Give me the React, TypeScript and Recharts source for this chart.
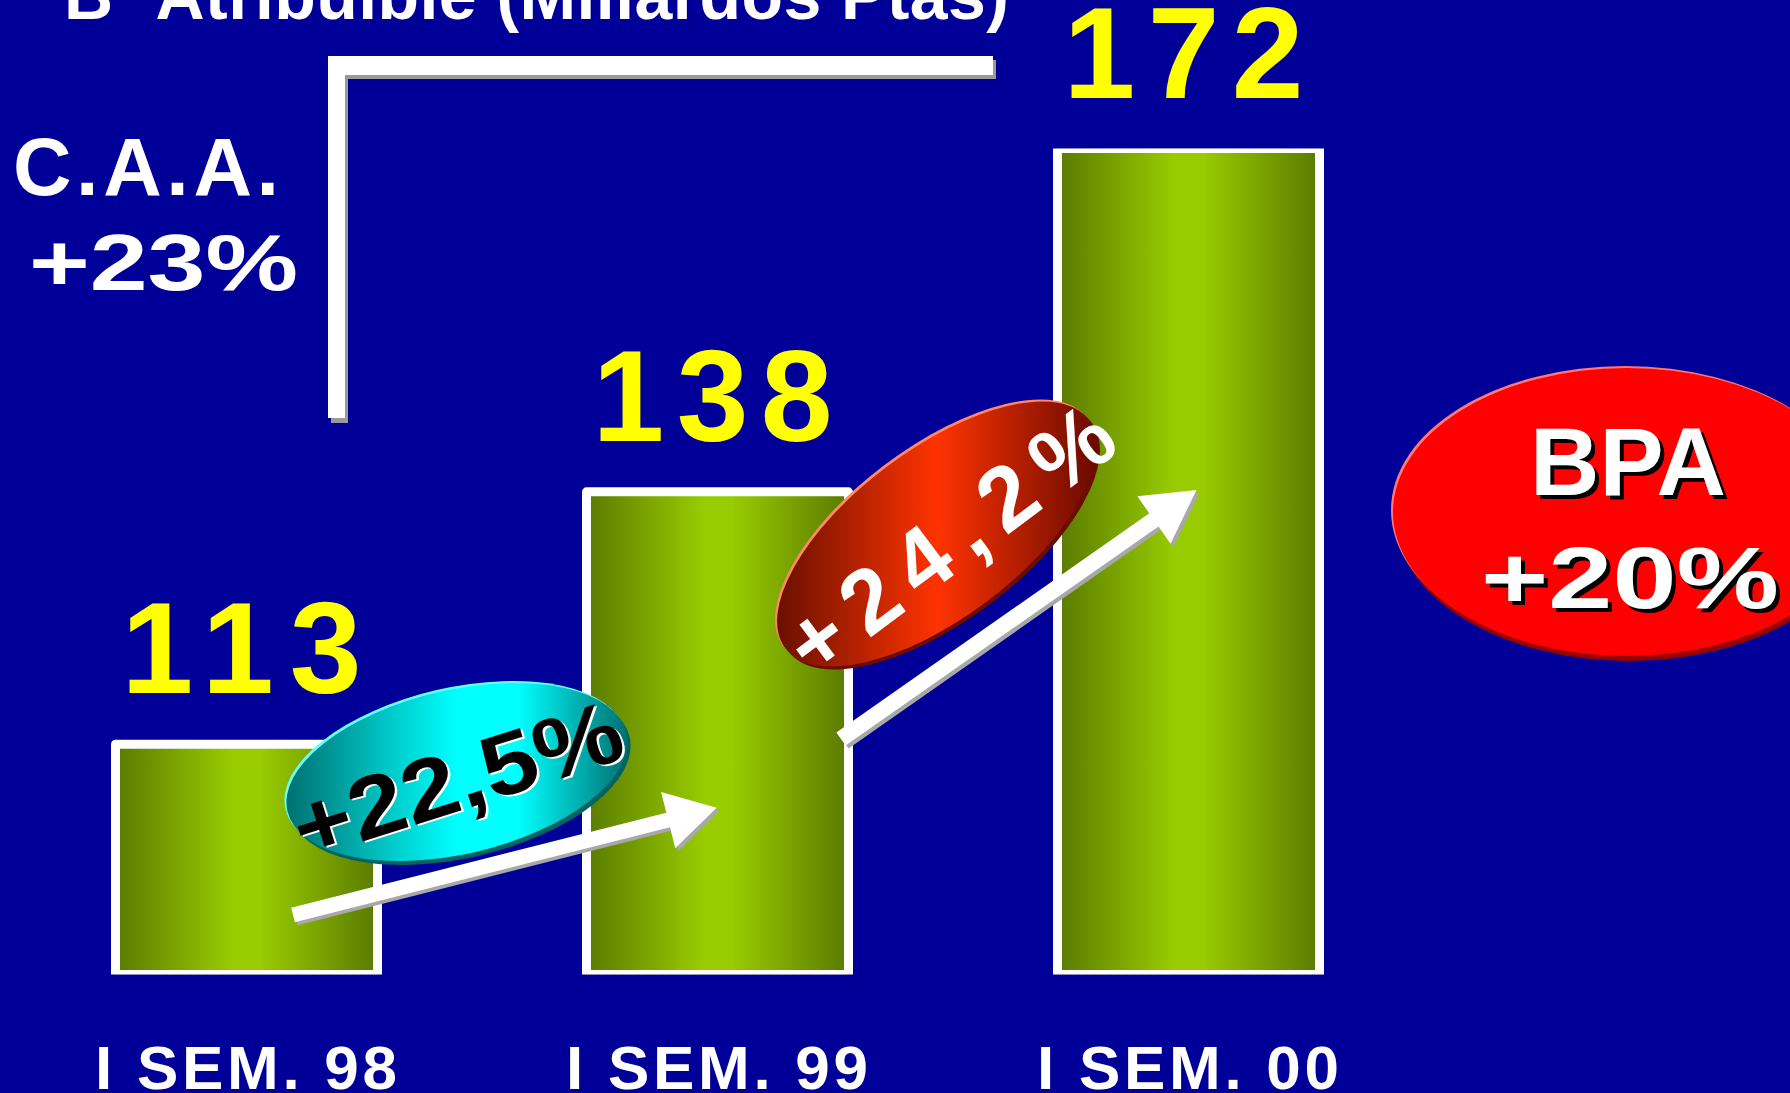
import { BarChart, Bar, XAxis, YAxis, LabelList } from 'recharts';

// Beneficio atribuible por semestre (miles de millones de pesetas)
const periods = ['I SEM. 98', 'I SEM. 99', 'I SEM. 00'];
const profit = [113, 138, 172];
const growthLabels = ['+22,5%', '+24,2%'];
const cagrLabel = ['C.A.A.', '+23%'];
const epsLabel = ['BPA', '+20%'];
const title = 'Bº Atribuible (Millardos Ptas)';

const data = periods.map((period, i) => ({ period, profit: profit[i] }));

const W = 1790;
const H = 1093;
const FONT = "'Liberation Sans', Arial, Helvetica, sans-serif";
const BG = '#000099';

function ValueLabel(props: any) {
  const vb = props.viewBox ?? props;
  const x = (vb.x ?? props.x) as number;
  const y = (vb.y ?? props.y) as number;
  const width = (vb.width ?? props.width) as number;
  return (
    <text
      x={x + width / 2 - 5}
      y={y - 51}
      textAnchor="middle"
      fill="#ffff00"
      fontFamily={FONT}
      fontWeight="bold"
      fontSize={129}
      textLength={240}
      lengthAdjust="spacing"
    >
      {props.value}
    </text>
  );
}

function PeriodTick(props: any) {
  const { x, y, payload } = props;
  return (
    <text
      x={x}
      y={y}
      dy={106}
      textAnchor="middle"
      fill="#ffffff"
      fontFamily={FONT}
      fontWeight="bold"
      fontSize={62}
      textLength={302}
      lengthAdjust="spacing"
    >
      {payload.value}
    </text>
  );
}

function Arrow({ x, y, angle, length, shaft, headLen, headHalf }: any) {
  const base = length - headLen;
  const pts = [
    [0, -shaft], [base, -shaft], [base, -headHalf], [length, 0],
    [base, headHalf], [base, shaft], [0, shaft],
  ].map((p) => p.join(',')).join(' ');
  return (
    <g>
      <polygon points={pts} fill="#a8a8a8" transform={`translate(${x + 3},${y + 3}) rotate(${angle})`} />
      <polygon points={pts} fill="#ffffff" transform={`translate(${x},${y}) rotate(${angle})`} />
    </g>
  );
}

function Overlay() {
  return (
    <svg width={W} height={H} style={{ position: 'absolute', left: 0, top: 0, pointerEvents: 'none' }}>
      {/* título, cortado por arriba */}
      <text x={64} y={19} fill="#ffffff" fontFamily={FONT} fontWeight="bold" fontSize={68} textLength={945} lengthAdjust="spacing">
        {title}
      </text>

      {/* escuadra */}
      <rect x={331} y={60} width={17} height={363} fill="#9a9a9a" />
      <rect x={331} y={60} width={665} height={19} fill="#9a9a9a" />
      <rect x={328} y={56} width={17} height={362} fill="#ffffff" />
      <rect x={328} y={56} width={665} height={19} fill="#ffffff" />

      <text x={13} y={195} fill="#ffffff" fontFamily={FONT} fontWeight="bold" fontSize={81} textLength={266} lengthAdjust="spacing">
        {cagrLabel[0]}
      </text>
      <text x={29} y={290} fill="#ffffff" fontFamily={FONT} fontWeight="bold" fontSize={80} textLength={269} lengthAdjust="spacingAndGlyphs">
        {cagrLabel[1]}
      </text>

      {/* flechas */}
      <Arrow x={293} y={915} angle={-14.2} length={437} shaft={7.5} headLen={50} headHalf={29} />
      <Arrow x={841} y={739} angle={-35} length={434} shaft={8} headLen={52} headHalf={29} />

      {/* elipse cian */}
      <ellipse rx={174} ry={82} fill="#006262" transform="translate(460,776) rotate(-13)" />
      <ellipse rx={174} ry={82} fill="#66ffff" transform="translate(455,770) rotate(-13)" />
      <ellipse rx={174} ry={82} fill="url(#cyanFill)" transform="translate(457,772) rotate(-13)" />
      <g transform="translate(457.5,780) rotate(-17.6)" fontFamily={FONT} fontWeight="bold" fontSize={88}>
        <text x={2} y={32} textAnchor="middle" fill="#ffffff" textLength={341} lengthAdjust="spacingAndGlyphs">{growthLabels[0]}</text>
        <text x={0} y={30} textAnchor="middle" fill="#000000" textLength={341} lengthAdjust="spacingAndGlyphs">{growthLabels[0]}</text>
      </g>

      {/* elipse roja */}
      <ellipse rx={190} ry={84} fill="#6a0c00" transform="translate(940,537) rotate(-37)" />
      <ellipse rx={190} ry={84} fill="#ff8866" transform="translate(935,532) rotate(-37)" />
      <ellipse rx={190} ry={84} fill="url(#redFill)" transform="translate(937,534) rotate(-37)" />
      <g transform="translate(949.5,539.5) rotate(-36.8)" fontFamily={FONT} fontWeight="bold" fontSize={90}>
        <text x={0} y={31} textAnchor="middle" fill="#ffffff" textLength={385} lengthAdjust="spacing">{growthLabels[1]}</text>
      </g>

      {/* BPA */}
      <ellipse cx={1629} cy={517} rx={234} ry={144} fill="#990000" />
      <ellipse cx={1625} cy={510} rx={234} ry={144} fill="#ff7777" />
      <ellipse cx={1627} cy={512} rx={234} ry={144} fill="#ff0000" />
      <g fontFamily={FONT} fontWeight="bold" textAnchor="middle">
        <text x={1632} y={499} fontSize={96} fill="#000000" textLength={196} lengthAdjust="spacingAndGlyphs">{epsLabel[0]}</text>
        <text x={1628} y={495} fontSize={96} fill="#ffffff" textLength={196} lengthAdjust="spacingAndGlyphs">{epsLabel[0]}</text>
        <text x={1634} y={612} fontSize={88} fill="#000000" textLength={298} lengthAdjust="spacingAndGlyphs">{epsLabel[1]}</text>
        <text x={1630} y={608} fontSize={88} fill="#ffffff" textLength={298} lengthAdjust="spacingAndGlyphs">{epsLabel[1]}</text>
      </g>
    </svg>
  );
}

export default function App() {
  return (
    <div style={{ position: 'fixed', left: 0, top: 0, width: W, height: H, background: BG, overflow: 'hidden' }}>
      <svg width={0} height={0} style={{ position: 'absolute' }}>
        <defs>
          <linearGradient id="barFill" x1="0" y1="0" x2="1" y2="0">
            <stop offset="0%" stopColor="#5a7a00" />
            <stop offset="45%" stopColor="#99cc00" />
            <stop offset="55%" stopColor="#99cc00" />
            <stop offset="100%" stopColor="#5a7a00" />
          </linearGradient>
          <linearGradient id="cyanFill" gradientUnits="userSpaceOnUse" x1={-166} y1={-38} x2={166} y2={38}>
            <stop offset="0%" stopColor="#007070" />
            <stop offset="30%" stopColor="#00c8c8" />
            <stop offset="50%" stopColor="#00ffff" />
            <stop offset="68%" stopColor="#00ffff" />
            <stop offset="100%" stopColor="#007070" />
          </linearGradient>
          <linearGradient id="redFill" gradientUnits="userSpaceOnUse" x1={-128} y1={-96} x2={128} y2={96}>
            <stop offset="0%" stopColor="#6a1000" />
            <stop offset="50%" stopColor="#ff3300" />
            <stop offset="100%" stopColor="#6a0a00" />
          </linearGradient>
        </defs>
      </svg>
      <BarChart width={W} height={H} data={data} margin={{ top: 148.5, right: 366.5, bottom: 58.5, left: 10.5 }}>
        <XAxis dataKey="period" axisLine={false} tickLine={false} height={60} interval={0} tick={(p: any) => <PeriodTick {...p} />} />
        <YAxis hide type="number" domain={[90.2, 172]} allowDataOverflow />
        <Bar
          dataKey="profit"
          barSize={262}
          fill="url(#barFill)"
          stroke="#ffffff"
          strokeWidth={9}
          strokeLinejoin="round"
          isAnimationActive={false}
        >
          <LabelList dataKey="profit" content={(p: any) => <ValueLabel {...p} />} />
        </Bar>
      </BarChart>
      <Overlay />
    </div>
  );
}
